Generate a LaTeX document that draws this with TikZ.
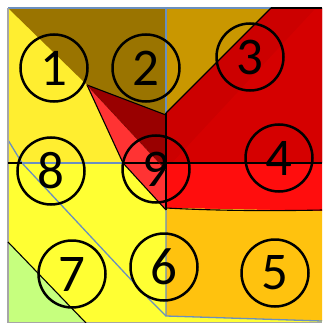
\documentclass[tikz,border=0pt]{standalone}
\usepackage{fontspec}
\setmainfont{Carlito}
\definecolor{ylo}{HTML}{FFFF33}
\definecolor{yloup}{HTML}{FFEE30}
\definecolor{brn}{HTML}{9A7400}
\definecolor{gld}{HTML}{C99700}
\definecolor{rdk}{HTML}{CC0000}
\definecolor{rdk2}{HTML}{D50000}
\definecolor{rlo}{HTML}{FF0D0D}
\definecolor{org}{HTML}{FFC20E}
\definecolor{grn}{HTML}{C6FF7E}
\definecolor{mar}{HTML}{990000}
\definecolor{rbr}{HTML}{FF3333}
\definecolor{bln}{HTML}{6A8FBF}
\tikzset{
  numc/.style={circle,draw=black,line width=2.5pt,minimum size=67pt,inner sep=0pt,font=\fontsize{53}{53}\selectfont},
  edge/.style={draw=black,line width=1.1pt},
  bedge/.style={draw=bln,line width=1.3pt},
}
\begin{document}
\begin{tikzpicture}[x=1pt,y=-1pt]
\useasboundingbox (0,0) rectangle (322,323);
\fill[white] (0,0) rectangle (322,323);
% base fills
\fill[ylo] (8,8) rectangle (322,323);
\fill[yloup] (8,8) -- (87,85) -- (123,163) -- (8,163) -- cycle;
\fill[brn] (8,8) -- (166,8) -- (166,115) -- (87,85) -- cycle;
\fill[gld] (166,8) -- (271,8) -- (166,113) -- cycle;
\fill[rdk] (271,8) -- (322,8) -- (322,163) -- (166,163) -- (166,113) -- cycle;
\fill[rdk2] (316,8) -- (322,8) -- (322,163) -- (172,163) -- cycle;
\fill[rlo] (166,163) -- (322,163) -- (322,211) -- (166,208) -- cycle;
\fill[org] (166,208) -- (322,211) -- (322,321) -- (166,316) -- cycle;
\fill[grn] (8,242) -- (86,323) -- (8,323) -- cycle;
\fill[mar] (87,85) -- (166,115) -- (166,170) -- cycle;
\fill[rbr] (87,85) -- (166,170) -- (166,210) -- (123,163) -- cycle;
% blue lines
\draw[bedge] (8,8) -- (271,8);
\draw[bedge] (166,8) -- (166,113);
\draw[bedge] (8,140) -- (22,163) -- (150,300) -- (166,316);
\draw[bedge] (166,210) -- (166,316) -- (322,321);
\draw[bedge] (22,163) -- (123,163);
\draw[draw=gray!70,line width=1.2pt] (8,8) -- (8,323);
\draw[draw=gray!70,line width=1.2pt] (8,322.5) -- (322,322.5);
% black edges
\draw[edge] (271,8) -- (322,8);
\draw[edge] (271,8) -- (166,113);
\draw[edge] (87,85) -- (166,115);
\draw[edge] (87,85) -- (123,163) -- (166,210);
\draw[edge] (166,113) -- (166,210);
\draw[edge] (123,163) -- (322,163);
\draw[edge] (8,163) -- (22,163);
\draw[edge] (166,208) .. controls (220,211) and (280,211) .. (322,210);
\draw[edge] (8,242) -- (86,323);
\draw[draw=mar!80!black,line width=0.6pt] (87,85) -- (166,170);
% numbered circles
\node[numc] (c1) at (54,68) {1};
\node[numc] (c2) at (146,68) {2};
\node[numc] (c3) at (250,57) {3};
\node[numc] (c4) at (279,158) {4};
\node[numc] (c5) at (275,273) {5};
\node[numc] (c6) at (164,267) {6};
\node[numc] (c7) at (72,274) {7};
\node[numc] (c8) at (51,171) {8};
\node[numc] (c9) at (156,169) {9};
\end{tikzpicture}
\end{document}
